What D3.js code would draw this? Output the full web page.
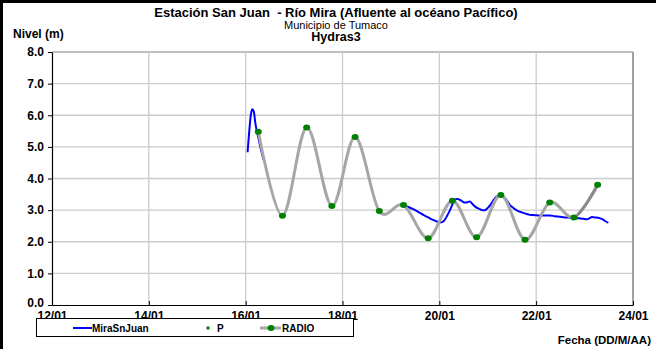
<!DOCTYPE html>
<html><head><meta charset="utf-8">
<script src="https://cdn.jsdelivr.net/npm/d3@7"></script>
<style>body{margin:0;background:#fff}svg{display:block;font-family:"Liberation Sans",Arial,sans-serif}text{white-space:pre}</style>
</head><body><svg id="c" width="656" height="349"></svg>
<script>
// ---- data ----
const yTicks = [0,1,2,3,4,5,6,7,8];
const xTickDays = [12,14,16,18,20,22,24];
// MiraSnJuan (day of January, level m); null = gap in record
const miraDays = [16.04,16.08,16.11,16.14,16.17,16.20,16.23,16.26,16.31,16.37,
  null,
  19.25,19.36,19.46,19.57,19.67,19.77,19.87,19.95,20.01,20.07,20.12,20.17,20.22,20.27,20.32,20.38,20.43,20.48,20.53,20.58,20.63,20.68,20.74,20.79,20.84,20.89,20.94,21.00,21.05,21.10,21.15,21.20,21.25,21.31,21.36,21.41,21.46,21.51,21.56,21.63,21.70,21.78,21.87,21.97,22.08,22.18,22.28,22.38,22.49,22.59,22.70,22.80,22.90,22.97,23.04,23.10,23.15,23.21,23.28,23.34,23.39,23.44,23.49];
const miraVals = [4.83,5.60,6.05,6.19,6.10,5.75,5.50,5.30,4.95,4.60,
  null,
  3.16,3.10,3.03,2.94,2.85,2.77,2.69,2.64,2.61,2.63,2.71,2.85,3.00,3.18,3.34,3.35,3.32,3.27,3.24,3.25,3.27,3.20,3.11,3.06,3.03,3.00,3.00,3.07,3.16,3.27,3.38,3.44,3.48,3.44,3.38,3.27,3.16,3.09,3.03,2.97,2.93,2.89,2.85,2.84,2.83,2.83,2.83,2.81,2.79,2.77,2.76,2.75,2.74,2.73,2.71,2.74,2.78,2.77,2.76,2.73,2.69,2.64,2.60];
// P / RADIO points
const pDays = [16.26,16.76,17.26,17.78,18.26,18.76,19.26,19.77,20.27,20.77,21.27,21.77,22.28,22.78,23.27];
const pVals = [5.48,2.82,5.61,3.13,5.31,2.97,3.16,2.11,3.30,2.14,3.48,2.06,3.24,2.77,3.80];

const titleLines = ["Estación San Juan  - Río Mira (Afluente al océano Pacífico)","Municipio de Tumaco","Hydras3"];

// ---- drawing ----
const svg = d3.select("#c");
const base = new Date(2010, 0, 1).getTime();
const dayToDate = d => new Date(base + (d - 1) * 864e5);
const x = d3.scaleTime().domain([dayToDate(12), dayToDate(24)]).range([52, 633]);
const y = d3.scaleLinear().domain([0, 8]).range([305, 52]);
const F = "Liberation Sans, Arial, sans-serif";

// frame
svg.append("line").attr("x1",0).attr("x2",656).attr("y1",1.5).attr("y2",1.5).attr("stroke","#000").attr("stroke-width",3);
svg.append("line").attr("x1",1.5).attr("x2",1.5).attr("y1",0).attr("y2",349).attr("stroke","#000").attr("stroke-width",3);

// gridlines
const g = svg.append("g");
g.selectAll(".hg").data(yTicks.filter(v=>v>0)).join("line")
  .attr("x1",52).attr("x2",633).attr("y1",d=>y(d)).attr("y2",d=>y(d))
  .attr("stroke",d=>d===8?"#a8a8a8":"#cccccc").attr("stroke-width",1.3);
g.selectAll(".vg").data(xTickDays.filter(v=>v>12)).join("line")
  .attr("x1",d=>x(dayToDate(d))).attr("x2",d=>x(dayToDate(d))).attr("y1",52).attr("y2",305)
  .attr("stroke",d=>d===24?"#a0a0a0":"#cccccc").attr("stroke-width",d=>d===24?2:1.3);

// axes
const yAxis = d3.axisLeft(y).tickValues(yTicks).tickFormat(d3.format(".1f")).tickSize(4).tickSizeOuter(0).tickPadding(4);
const ya = svg.append("g").attr("transform","translate(52,0)").call(yAxis);
const xAxis = d3.axisBottom(x).tickValues(xTickDays.map(dayToDate)).tickFormat(d3.timeFormat("%d/%m")).tickSize(0).tickPadding(6);
const xa = svg.append("g").attr("transform","translate(0,305)").call(xAxis);
[ya,xa].forEach(a=>{
  a.select(".domain").attr("stroke","#000").attr("stroke-width",1.2);
  a.selectAll(".tick line").attr("stroke","#000");
  a.selectAll("text").attr("fill","#000").style("font-size","12px").style("font-weight","bold").style("font-family",F);
});
ya.selectAll(".tick").filter(d=>d===0).select("text").attr("dy","0.1em");
xa.selectAll(".tick").append("line").attr("y1",0).attr("y2",-4).attr("stroke","#000");

// MiraSnJuan line
const miraPts = miraDays.map((d,i)=>({d, v: miraVals[i]}));
const lineM = d3.line().defined(p=>p.d!==null).x(p=>x(dayToDate(p.d))).y(p=>y(p.v)).curve(d3.curveMonotoneX);
svg.append("path").attr("d",lineM(miraPts)).attr("fill","none").attr("stroke","#0000ff").attr("stroke-width",2);

// RADIO line
const pPts = pDays.map((d,i)=>({d, v: pVals[i]}));
const lineR = d3.line().x(p=>x(dayToDate(p.d))).y(p=>y(p.v)).curve(d3.curveCardinal.tension(0));
svg.append("path").attr("d",lineR(pPts)).attr("fill","none").attr("stroke","#a6a6a6").attr("stroke-width",3);
const lastX = x(dayToDate(pDays[pDays.length-2]));
svg.append("clipPath").attr("id","lastseg").append("rect").attr("x",lastX+3).attr("y",0).attr("width",656-lastX).attr("height",349);
svg.append("path").attr("d",lineR(pPts)).attr("fill","none").attr("stroke","#8a8a8a").attr("stroke-width",3).attr("clip-path","url(#lastseg)");
svg.selectAll(".pt").data(pPts).join("ellipse")
  .attr("cx",p=>x(dayToDate(p.d))).attr("cy",p=>y(p.v)).attr("rx",3.5).attr("ry",3).attr("fill","#008000");

// titles
svg.append("text").attr("x",336).attr("y",17).attr("text-anchor","middle").style("font-size","13px").style("font-weight","bold").text(titleLines[0]);
svg.append("text").attr("x",336).attr("y",29).attr("text-anchor","middle").style("font-size","11px").text(titleLines[1]);
svg.append("text").attr("x",336).attr("y",41).attr("text-anchor","middle").style("font-size","12.5px").style("font-weight","bold").text(titleLines[2]);
svg.append("text").attr("x",13).attr("y",38).style("font-size","12px").style("font-weight","bold").text("Nivel (m)");
svg.append("text").attr("x",651).attr("y",344).attr("text-anchor","end").style("font-size","11.5px").style("font-weight","bold").text("Fecha (DD/M/AA)");

// legend
const lg = svg.append("g");
lg.append("rect").attr("x",36.5).attr("y",318.5).attr("width",317).attr("height",18).attr("fill","#fff").attr("stroke","#000").attr("stroke-width",1);
const ly = 328;
lg.append("line").attr("x1",73).attr("x2",92).attr("y1",ly).attr("y2",ly).attr("stroke","#0000ff").attr("stroke-width",2);
lg.append("text").attr("x",92).attr("y",ly+4).style("font-size","10px").style("font-weight","bold").text("MiraSnJuan");
lg.append("rect").attr("x",206.5).attr("y",ly-1.5).attr("width",3).attr("height",3).attr("fill","#008000");
lg.append("text").attr("x",217).attr("y",ly+4).style("font-size","10px").style("font-weight","bold").text("P");
lg.append("line").attr("x1",260).attr("x2",281).attr("y1",ly).attr("y2",ly).attr("stroke","#a6a6a6").attr("stroke-width",3);
lg.append("ellipse").attr("cx",271).attr("cy",ly).attr("rx",3.5).attr("ry",3).attr("fill","#008000");
lg.append("text").attr("x",282).attr("y",ly+4).style("font-size","10px").style("font-weight","bold").text("RADIO");
</script></body></html>
